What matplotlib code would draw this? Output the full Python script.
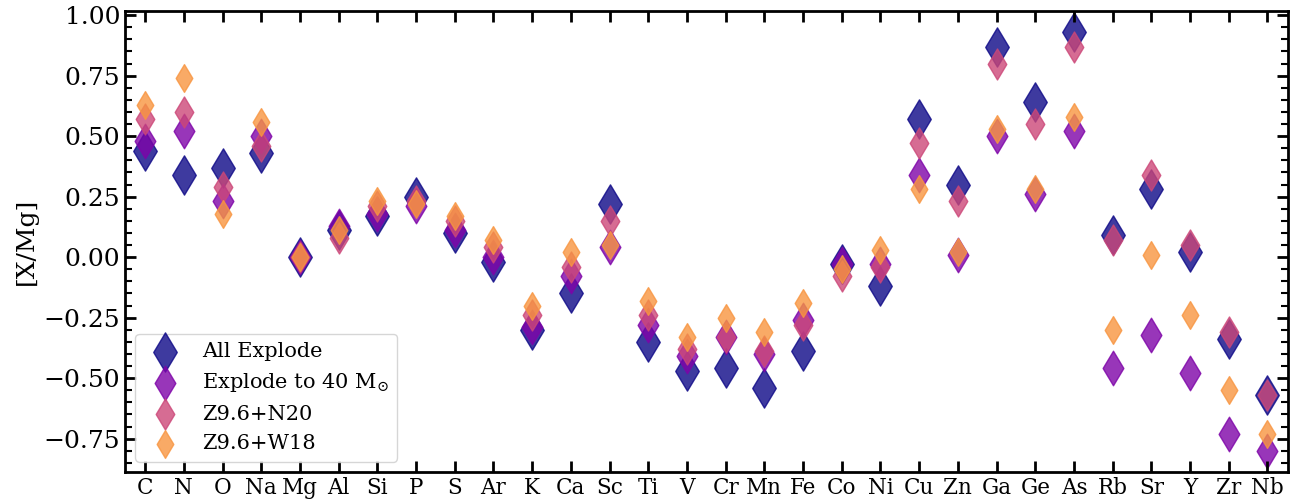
import matplotlib
matplotlib.use('Agg')
import matplotlib.pyplot as plt
from matplotlib.ticker import MultipleLocator
import numpy as np

plt.rcParams['font.family'] = 'DejaVu Serif'
plt.rcParams['mathtext.fontset'] = 'dejavuserif'

elements = ['C', 'N', 'O', 'Na', 'Mg', 'Al', 'Si', 'P', 'S', 'Ar', 'K', 'Ca', 'Sc', 'Ti', 'V',
            'Cr', 'Mn', 'Fe', 'Co', 'Ni', 'Cu', 'Zn', 'Ga', 'Ge', 'As', 'Rb', 'Sr', 'Y', 'Zr', 'Nb']

all_explode = [0.44, 0.34, 0.37, 0.43, 0.00, 0.11, 0.17, 0.25, 0.10, -0.02, -0.30, -0.15, 0.22, -0.35, -0.47,
               -0.46, -0.54, -0.39, -0.03, -0.12, 0.57, 0.30, 0.87, 0.64, 0.93, 0.09, 0.28, 0.02, -0.34, -0.57]
explode_40 = [0.48, 0.52, 0.23, 0.50, 0.00, 0.13, 0.18, 0.21, 0.11, 0.00, -0.29, -0.08, 0.04, -0.28, -0.41,
              -0.33, -0.40, -0.26, -0.03, -0.03, 0.34, 0.01, 0.50, 0.26, 0.52, -0.46, -0.32, -0.48, -0.73, -0.80]
z96_n20 = [0.57, 0.60, 0.29, 0.46, 0.00, 0.08, 0.21, 0.23, 0.15, 0.04, -0.24, -0.04, 0.15, -0.24, -0.38,
           -0.33, -0.39, -0.28, -0.08, -0.04, 0.47, 0.23, 0.80, 0.55, 0.87, 0.07, 0.34, 0.05, -0.31, -0.57]
z96_w18 = [0.63, 0.74, 0.18, 0.56, 0.00, 0.11, 0.23, 0.22, 0.17, 0.07, -0.20, 0.02, 0.05, -0.18, -0.33,
           -0.25, -0.31, -0.19, -0.05, 0.03, 0.28, 0.02, 0.53, 0.28, 0.58, -0.30, 0.01, -0.24, -0.55, -0.73]

labels = ['All Explode', r'Explode to 40 M$_{\odot}$', 'Z9.6+N20', 'Z9.6+W18']
series = [all_explode, explode_40, z96_n20, z96_w18]
sizes = [400, 310, 250, 200]

cmap = plt.get_cmap('plasma')
colors = [cmap(0.0), cmap(0.25), cmap(0.5), cmap(0.75)]

fig = plt.figure(figsize=(12.97, 5.01), dpi=100)
ax = fig.add_axes([125 / 1297, 1 - 472 / 501, (1288 - 125) / 1297, (472 - 11) / 501])

x = np.arange(len(elements))
for vals, lab, s, c in zip(series, labels, sizes, colors):
    ax.scatter(x, vals, s=s, marker='d', color=c, alpha=0.8, label=lab)

ax.set_xlim(-0.52, 29.53)
ax.set_ylim(-0.888, 1.017)
ax.set_xticks(x)
ax.set_xticklabels(elements, fontsize=15.5)
ax.yaxis.set_major_locator(MultipleLocator(0.25))
ax.yaxis.set_minor_locator(MultipleLocator(0.05))
ax.tick_params(axis='y', labelsize=18)
ax.tick_params(which='both', direction='in', top=True, right=True)
ax.tick_params(which='major', length=8, width=2)
ax.tick_params(which='minor', length=5, width=1.5)
ax.tick_params(axis='x', which='minor', top=False, bottom=False)
for sp in ax.spines.values():
    sp.set_linewidth(2)

ax.set_ylabel('[X/Mg]', fontsize=18)
ax.legend(loc='lower left', fontsize=15)

fig.savefig('out.png', dpi=100)
